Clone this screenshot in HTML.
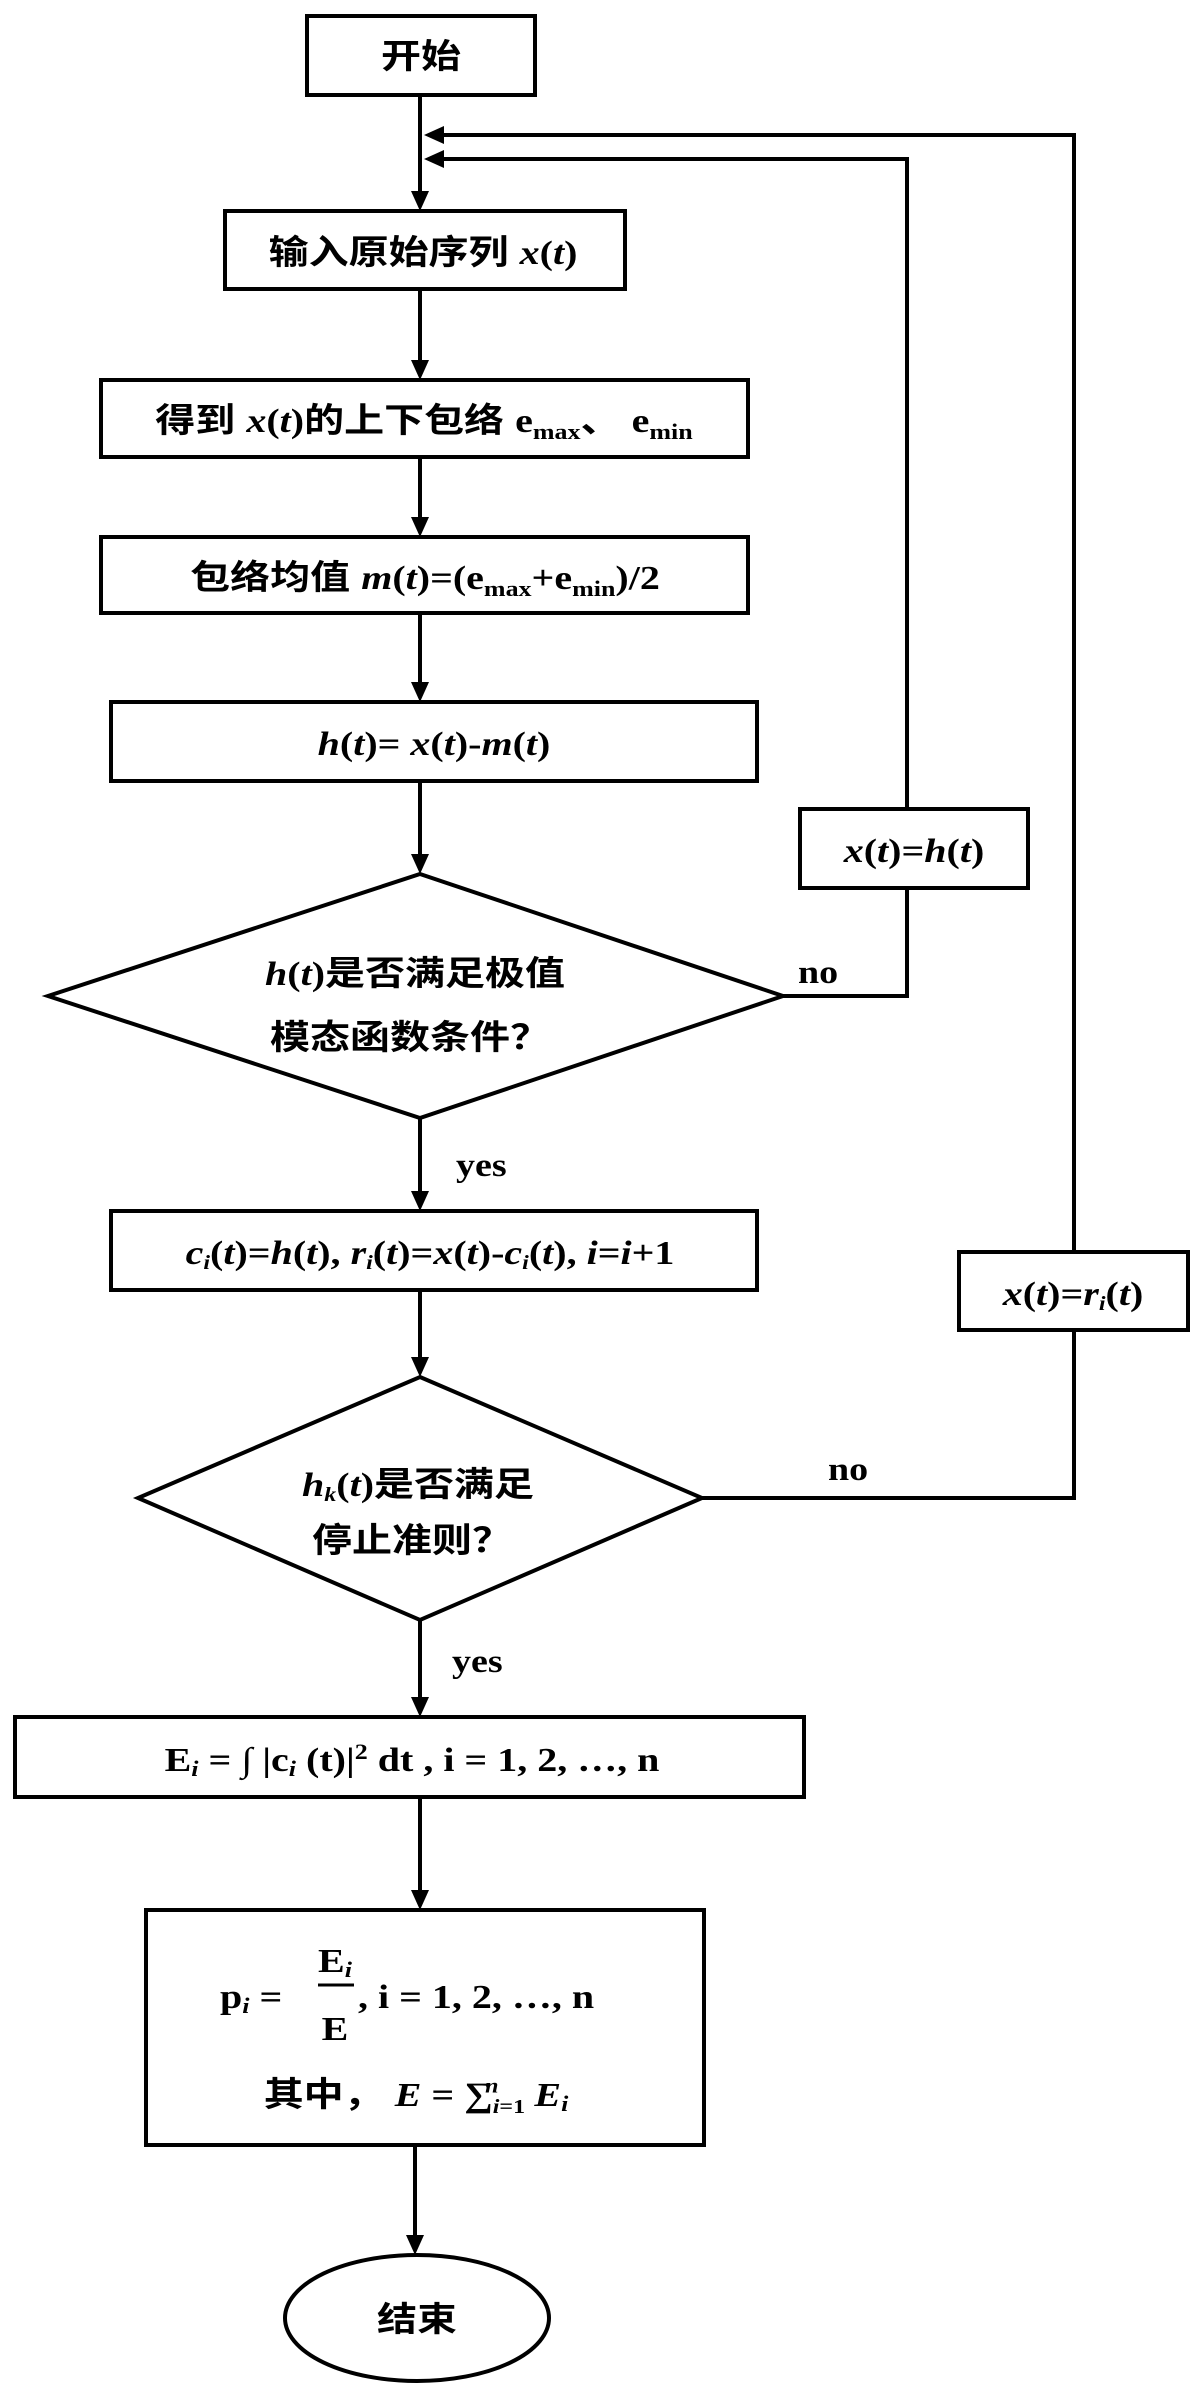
<!DOCTYPE html>
<html><head><meta charset="utf-8"><style>
html,body{margin:0;padding:0;background:#fff;}
svg{display:block;}
text{font-family:"Liberation Serif","Noto Serif CJK SC","Noto Sans CJK SC",serif;font-weight:bold;fill:#000;}
.c{font-family:"Liberation Sans","Noto Sans CJK SC",sans-serif;}
.i{font-style:italic;}
</style></head><body>
<svg width="1190" height="2385" viewBox="0 0 1190 2385" xmlns="http://www.w3.org/2000/svg">
<defs>
<marker id="a" markerWidth="8" markerHeight="8" refX="7" refY="4" orient="auto" markerUnits="userSpaceOnUse" viewBox="0 0 8 8">
</marker>
</defs>
<g fill="none" stroke="#000" stroke-width="4">
<rect x="307" y="16" width="228" height="79"/>
<rect x="225" y="211" width="400" height="78"/>
<rect x="101" y="380" width="647" height="77"/>
<rect x="101" y="537" width="647" height="76"/>
<rect x="111" y="702" width="646" height="79"/>
<rect x="800" y="809" width="228" height="79"/>
<polygon points="420,874 783,996 420,1118 48,996"/>
<rect x="111" y="1211" width="646" height="79"/>
<rect x="959" y="1252" width="229" height="78"/>
<polygon points="420,1377 702,1498 420,1620 138,1498"/>
<rect x="15" y="1717" width="789" height="80"/>
<rect x="146" y="1910" width="558" height="235"/>
<ellipse cx="417" cy="2318" rx="132" ry="63"/>
<!-- vertical connectors -->
<line x1="420" y1="95" x2="420" y2="195"/>
<line x1="420" y1="289" x2="420" y2="364"/>
<line x1="420" y1="457" x2="420" y2="521"/>
<line x1="420" y1="613" x2="420" y2="686"/>
<line x1="420" y1="781" x2="420" y2="858"/>
<line x1="420" y1="1118" x2="420" y2="1195"/>
<line x1="420" y1="1290" x2="420" y2="1361"/>
<line x1="420" y1="1620" x2="420" y2="1701"/>
<line x1="420" y1="1797" x2="420" y2="1894"/>
<line x1="415" y1="2145" x2="415" y2="2239"/>
<!-- loops -->
<polyline points="783,996 907,996 907,888"/>
<polyline points="907,809 907,159 440,159"/>
<polyline points="702,1498 1074,1498 1074,1330"/>
<polyline points="1074,1252 1074,135 440,135"/>
</g>
<g fill="#000">
<polygon points="411,191 429,191 420,211"/>
<polygon points="411,360 429,360 420,380"/>
<polygon points="411,517 429,517 420,537"/>
<polygon points="411,682 429,682 420,702"/>
<polygon points="411,854 429,854 420,874"/>
<polygon points="411,1191 429,1191 420,1211"/>
<polygon points="411,1357 429,1357 420,1377"/>
<polygon points="411,1697 429,1697 420,1717"/>
<polygon points="411,1890 429,1890 420,1910"/>
<polygon points="406,2235 424,2235 415,2255"/>
<polygon points="444,126 444,144 424,135"/>
<polygon points="444,150 444,168 424,159"/>
</g>
<g font-size="40">
<text class="c" transform="translate(421,68) scale(1,0.85)" text-anchor="middle">开始</text>
<text transform="translate(423,264) scale(1,0.85)" text-anchor="middle"><tspan class="c">输入原始序列 </tspan><tspan class="i">x</tspan>(<tspan class="i">t</tspan>)</text>
<text transform="translate(424,432) scale(1,0.85)" text-anchor="middle"><tspan class="c">得到 </tspan><tspan class="i">x</tspan>(<tspan class="i">t</tspan>)<tspan class="c">的上下包络 </tspan>e<tspan font-size="26" dy="8">max</tspan><tspan class="c" dy="-8">、 </tspan>e<tspan font-size="26" dy="8">min</tspan></text>
<text transform="translate(425,589) scale(1,0.85)" text-anchor="middle"><tspan class="c">包络均值 </tspan><tspan class="i">m</tspan>(<tspan class="i">t</tspan>)=(e<tspan font-size="26" dy="8">max</tspan><tspan dy="-8">+e</tspan><tspan font-size="26" dy="8">min</tspan><tspan dy="-8">)/2</tspan></text>
<text transform="translate(434,755) scale(1,0.85)" text-anchor="middle"><tspan class="i">h</tspan>(<tspan class="i">t</tspan>)= <tspan class="i">x</tspan>(<tspan class="i">t</tspan>)-<tspan class="i">m</tspan>(<tspan class="i">t</tspan>)</text>
<text transform="translate(914,862) scale(1,0.85)" text-anchor="middle"><tspan class="i">x</tspan>(<tspan class="i">t</tspan>)=<tspan class="i">h</tspan>(<tspan class="i">t</tspan>)</text>
<text transform="translate(415,985) scale(1,0.85)" text-anchor="middle"><tspan class="i">h</tspan>(<tspan class="i">t</tspan>)<tspan class="c">是否满足极值</tspan></text>
<text class="c" transform="translate(410,1049) scale(1,0.85)" text-anchor="middle">模态函数条件？</text>
<text transform="translate(430,1264) scale(1,0.85)" text-anchor="middle"><tspan class="i">c</tspan><tspan class="i" font-size="24" dy="6">i</tspan><tspan dy="-6">(</tspan><tspan class="i">t</tspan>)=<tspan class="i">h</tspan>(<tspan class="i">t</tspan>), <tspan class="i">r</tspan><tspan class="i" font-size="24" dy="6">i</tspan><tspan dy="-6">(</tspan><tspan class="i">t</tspan>)=<tspan class="i">x</tspan>(<tspan class="i">t</tspan>)-<tspan class="i">c</tspan><tspan class="i" font-size="24" dy="6">i</tspan><tspan dy="-6">(</tspan><tspan class="i">t</tspan>), <tspan class="i">i</tspan>=<tspan class="i">i</tspan>+1</text>
<text transform="translate(1073,1305) scale(1,0.85)" text-anchor="middle"><tspan class="i">x</tspan>(<tspan class="i">t</tspan>)=<tspan class="i">r</tspan><tspan class="i" font-size="24" dy="6">i</tspan><tspan dy="-6">(</tspan><tspan class="i">t</tspan>)</text>
<text transform="translate(418,1496) scale(1,0.85)" text-anchor="middle"><tspan class="i">h</tspan><tspan class="i" font-size="24" dy="6">k</tspan><tspan dy="-6">(</tspan><tspan class="i">t</tspan>)<tspan class="c">是否满足</tspan></text>
<text class="c" transform="translate(412,1552) scale(1,0.85)" text-anchor="middle">停止准则？</text>
<text transform="translate(412,1771) scale(1,0.85)" text-anchor="middle">E<tspan class="i" font-size="26" dy="6">i</tspan><tspan dy="-6"> = ∫ |c</tspan><tspan class="i" font-size="26" dy="6">i</tspan><tspan dy="-6"> (t)|</tspan><tspan font-size="26" dy="-14">2</tspan><tspan dy="14">  dt , i = 1, 2, …, n</tspan></text>
<text transform="translate(220,2008) scale(1,0.85)">p<tspan class="i" font-size="26" dy="6">i</tspan><tspan dy="-6"> = </tspan></text>
<text transform="translate(335,1972) scale(1,0.85)" text-anchor="middle">E<tspan class="i" font-size="26" dy="6">i</tspan></text>
<text transform="translate(335,2040) scale(1,0.85)" text-anchor="middle">E</text>
<text transform="translate(358,2008) scale(1,0.85)">, i  =  1, 2, …, n</text>
<text transform="translate(416,2106) scale(1,0.85)" text-anchor="middle"><tspan class="c">其中，  </tspan><tspan class="i">E</tspan> = ∑<tspan class="i" font-size="24" dy="8">i</tspan><tspan font-size="24">=1</tspan><tspan class="i" font-size="24" dy="-24" dx="-40">n</tspan><tspan class="i" dy="16" dx="26"> E</tspan><tspan class="i" font-size="26" dy="6">i</tspan></text>
<text class="c" transform="translate(417,2331) scale(1,0.85)" text-anchor="middle">结束</text>
<text transform="translate(798,983) scale(1,0.85)" font-size="38">no</text>
<text transform="translate(828,1480) scale(1,0.85)" font-size="38">no</text>
<text transform="translate(456,1176) scale(1,0.85)" font-size="38">yes</text>
<text transform="translate(452,1672) scale(1,0.85)" font-size="38">yes</text>
</g>
<line x1="318" y1="1985" x2="354" y2="1985" stroke="#000" stroke-width="3"/>
</svg>
</body></html>
